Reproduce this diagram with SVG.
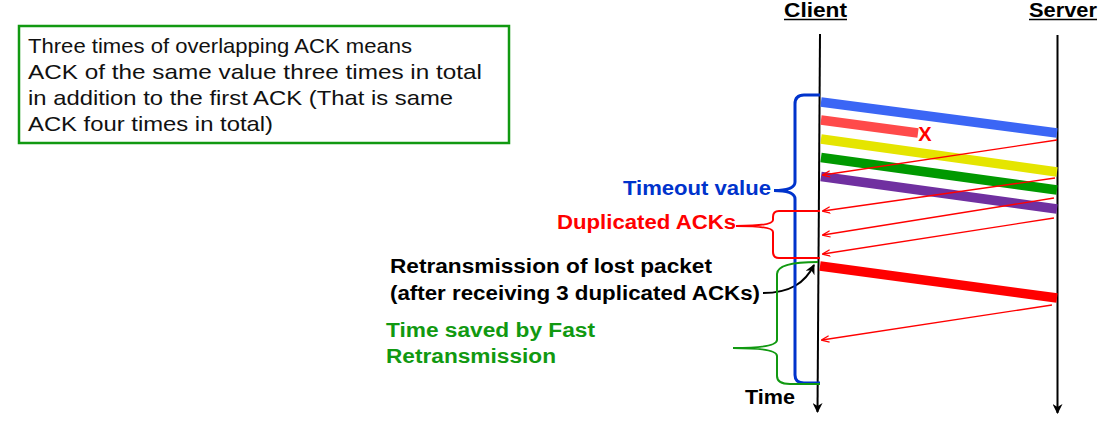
<svg xmlns="http://www.w3.org/2000/svg" width="1101" height="429" viewBox="0 0 1101 429">
<style>
.b{font-family:"Liberation Sans",Arial,sans-serif;font-weight:bold;font-size:20px}
.n{font-family:"Liberation Sans",Arial,sans-serif;font-size:21px;fill:#111}
.pk{stroke-width:9.5;fill:none}
.ack{stroke:#ff0000;stroke-width:1.3;fill:none;marker-end:url(#ra)}
.br{fill:none;stroke-width:2}
.bb{stroke-width:3}
</style>
<defs>
<marker id="ra" viewBox="0 0 10 10" refX="9" refY="5" markerWidth="8" markerHeight="8" markerUnits="userSpaceOnUse" orient="auto">
<path d="M0,1 L10,5 L0,9" fill="none" stroke="#ff0000" stroke-width="1.5"/>
</marker>
<marker id="ka" viewBox="0 0 10 10" refX="9" refY="5" markerWidth="10" markerHeight="10" markerUnits="userSpaceOnUse" orient="auto">
<path d="M0,0 L10,5 L0,10 L3,5 Z" fill="#000"/>
</marker>
</defs>

<g id="note">
<rect x="19" y="26" width="490" height="117" fill="#fff" stroke="#119911" stroke-width="2.5"/>
<text class="n" x="28" y="53" textLength="384" lengthAdjust="spacingAndGlyphs">Three times of overlapping ACK means</text>
<text class="n" x="28" y="79" textLength="454" lengthAdjust="spacingAndGlyphs">ACK of the same value three times in total</text>
<text class="n" x="28" y="105" textLength="425" lengthAdjust="spacingAndGlyphs">in addition to the first ACK (That is same</text>
<text class="n" x="28" y="131" textLength="245" lengthAdjust="spacingAndGlyphs">ACK four times in total)</text>
</g>

<g id="client">
<text class="b" x="784" y="17" textLength="63" lengthAdjust="spacingAndGlyphs" font-size="18">Client</text>
<line x1="784" y1="19.5" x2="847" y2="19.5" stroke="#000" stroke-width="1.5"/>
<line x1="820" y1="34" x2="817.5" y2="412" stroke="#000" stroke-width="2" marker-end="url(#ka)"/>
</g>

<g id="server">
<text class="b" x="1029" y="17" textLength="68" lengthAdjust="spacingAndGlyphs" font-size="18">Server</text>
<line x1="1029" y1="19.5" x2="1097" y2="19.5" stroke="#000" stroke-width="1.5"/>
<line x1="1057.5" y1="35" x2="1057.5" y2="413" stroke="#000" stroke-width="2" marker-end="url(#ka)"/>
</g>

<g id="packets">
<line class="pk" x1="821" y1="102" x2="1057" y2="133" stroke="#3b66f5"/>
<line class="pk" x1="821" y1="120" x2="918" y2="133" stroke="#ff4a4a"/>
<text class="b" x="925" y="141" fill="#ff0000" text-anchor="middle" font-size="18">X</text>
<line class="pk" x1="821" y1="139" x2="1057" y2="172" stroke="#e5e500"/>
<line class="pk" x1="821" y1="157.5" x2="1057" y2="190" stroke="#009900"/>
<line class="pk" x1="821" y1="176.5" x2="1057" y2="209" stroke="#7030a0"/>
<line class="pk" x1="820" y1="266" x2="1057" y2="298" stroke="#ff0000"/>
</g>

<g id="connectors">
<line class="ack" x1="1057" y1="140" x2="823" y2="175"/>
<line class="ack" x1="1055" y1="178" x2="823" y2="211"/>
<line class="ack" x1="1054" y1="198" x2="823" y2="235"/>
<line class="ack" x1="1054" y1="218" x2="823" y2="254"/>
<line class="ack" x1="1052" y1="305" x2="822" y2="340"/>
<path d="M763,293 C790,293 805,283 814,265" fill="none" stroke="#000" stroke-width="2" marker-end="url(#ka)"/>
</g>

<g id="timeout">
<path class="br bb" stroke="#0033cc" d="M820,95 H804 Q795,95 795,104 V182 Q795,190.5 774,190.5 Q795,190.5 795,199 V375 Q795,383 804,383 H820"/>
<text class="b" x="623" y="195" fill="#0033cc" textLength="148" lengthAdjust="spacingAndGlyphs">Timeout value</text>
</g>

<g id="dupacks">
<path class="br" stroke="#ff0000" d="M820,211 H779 Q773,211 773,217 V220 Q773,226 736,226 Q773,226 773,232 V252 Q773,258 779,258 H820"/>
<text class="b" x="557" y="229" fill="#ff0000" textLength="179" lengthAdjust="spacingAndGlyphs">Duplicated ACKs</text>
</g>

<g id="retrans">
<text class="b" x="390" y="273" fill="#000" textLength="322" lengthAdjust="spacingAndGlyphs">Retransmission of lost packet</text>
<text class="b" x="390" y="300" fill="#000" textLength="370" lengthAdjust="spacingAndGlyphs">(after receiving 3 duplicated ACKs)</text>
</g>

<g id="saved">
<path class="br" stroke="#119911" d="M818,262 Q777,262 777,274 V340 Q777,348 733,348 Q777,348 777,356 V376 Q777,384 790,384 H820"/>
<text class="b" x="386" y="337" fill="#119911" textLength="209" lengthAdjust="spacingAndGlyphs">Time saved by Fast</text>
<text class="b" x="386" y="363" fill="#119911" textLength="170" lengthAdjust="spacingAndGlyphs">Retransmission</text>
</g>

<g id="time">
<text class="b" x="745" y="404" fill="#000" textLength="50" lengthAdjust="spacingAndGlyphs">Time</text>
</g>
</svg>
